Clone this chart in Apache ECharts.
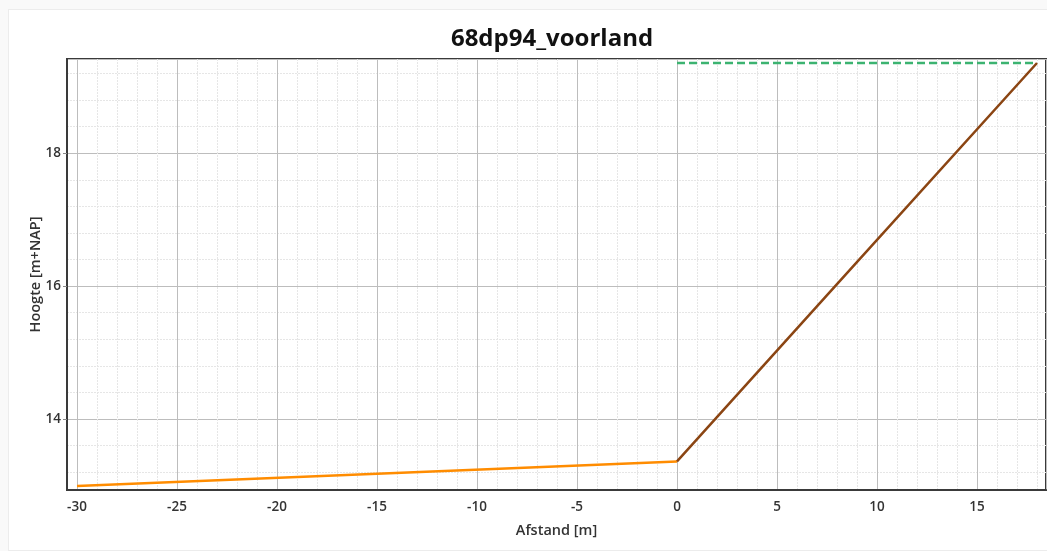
<!DOCTYPE html>
<html>
<head>
<meta charset="utf-8">
<script src="https://cdn.jsdelivr.net/npm/echarts@6/dist/echarts.min.js"></script>
<style>
  html, body { margin: 0; padding: 0; background: #f9f9f9; }
  #card { position: absolute; left: 8px; top: 9px; width: 1045px; height: 540px; background: #fff; border: 1px solid #ececec; }
  #chart { position: absolute; left: 0; top: 0; width: 1047px; height: 551px; }
</style>
</head>
<body>
<div id="card"></div>
<div id="chart"></div>
<script>
// Data
const titleText = '68dp94_voorland';
const xName = 'Afstand [m]';
const yName = 'Hoogte [m+NAP]';
const xRange = [-30.5, 18.45];
const yRange = [12.93, 19.42];

const voorlandX = [-30, 0];
const voorlandY = [12.99, 13.36];

const dijkX = [0, 8, 18];
const dijkY = [13.36, 16.03, 19.36];

const waterX = [0, 18];
const waterY = [19.36, 19.36];

const zip = (xs, ys) => xs.map((x, i) => [x, ys[i]]);

const font = '"Open Sans", "Noto Sans", sans-serif';
const chart = echarts.init(document.getElementById('chart'), null, { renderer: 'canvas' });

chart.setOption({
  backgroundColor: 'transparent',
  animation: false,
  title: {
    text: titleText,
    left: 547,
    top: 22,
    textAlign: 'center',
    textStyle: { fontFamily: font, fontSize: 24, fontWeight: 'bold', color: '#111' }
  },
  grid: {
    left: 67, right: 1, top: 59, bottom: 61,
    show: true, borderColor: '#3a3a3a', borderWidth: 2, backgroundColor: '#fff'
  },
  xAxis: {
    type: 'value',
    min: xRange[0], max: xRange[1],
    splitNumber: 10,
    name: xName,
    nameLocation: 'middle',
    nameGap: 33,
    nameMoveOverlap: false,
    nameTextStyle: { fontFamily: font, fontSize: 14.5, fontWeight: 600, color: '#333' },
    axisLine: { show: true, onZero: false, lineStyle: { color: '#3a3a3a', width: 2 } },
    axisTick: { show: false },
    axisLabel: { showMinLabel: false, showMaxLabel: false, margin: 10, fontFamily: font, fontSize: 13.5, fontWeight: 600, color: '#333' },
    splitLine: { show: true, lineStyle: { color: '#bdbdbd', width: 1 } },
    minorTick: { show: false, splitNumber: 5 },
    minorSplitLine: { show: true, lineStyle: { color: '#e6e6e6', width: 1, type: [2, 1] } }
  },
  yAxis: {
    type: 'value',
    min: yRange[0], max: yRange[1],
    splitNumber: 3,
    name: yName,
    nameLocation: 'middle',
    nameGap: 24,
    nameMoveOverlap: false,
    nameTextStyle: { fontFamily: font, fontSize: 14.5, fontWeight: 600, color: '#333' },
    axisLine: { show: true, onZero: false, lineStyle: { color: '#3a3a3a', width: 2 } },
    axisTick: { show: true, length: 4, lineStyle: { color: '#888' } },
    axisLabel: { showMinLabel: false, showMaxLabel: false, margin: 6, fontFamily: font, fontSize: 13.5, fontWeight: 600, color: '#333' },
    splitLine: { show: true, lineStyle: { color: '#bdbdbd', width: 1 } },
    minorTick: { show: false, splitNumber: 5 },
    minorSplitLine: { show: true, lineStyle: { color: '#e6e6e6', width: 1, type: [2, 1] } }
  },
  series: [
    {
      name: 'Voorland', type: 'line', data: zip(voorlandX, voorlandY),
      showSymbol: false, symbol: 'none',
      lineStyle: { color: '#ff8c00', width: 2.5 }, z: 3
    },
    {
      name: 'Dijkprofiel', type: 'line', data: zip(dijkX, dijkY),
      showSymbol: false, symbol: 'none',
      lineStyle: { color: '#8b4513', width: 2.5 }, z: 4
    },
    {
      name: 'Waterstand', type: 'line', data: zip(waterX, waterY),
      showSymbol: false, symbol: 'none',
      lineStyle: { color: '#3cb371', width: 2.5, type: [8, 4] }, z: 5
    }
  ]
});
</script>
</body>
</html>
